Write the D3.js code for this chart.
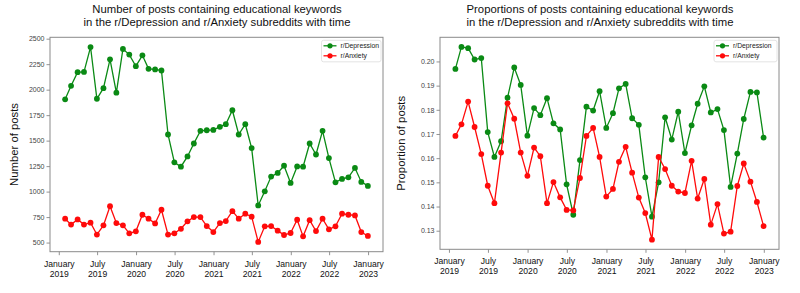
<!DOCTYPE html>
<html><head><meta charset="utf-8">
<script src="https://cdn.jsdelivr.net/npm/d3@7/dist/d3.min.js"></script>
<style>
html,body{margin:0;padding:0;background:#fff;}
svg{display:block;font-family:"Liberation Sans",Arial,sans-serif;}
</style></head>
<body><svg id="c" width="800" height="293"></svg>
<script>
// ---- data ----
const months = ["2019-01","2019-02","2019-03","2019-04","2019-05","2019-06","2019-07","2019-08","2019-09","2019-10","2019-11","2019-12",
"2020-01","2020-02","2020-03","2020-04","2020-05","2020-06","2020-07","2020-08","2020-09","2020-10","2020-11","2020-12",
"2021-01","2021-02","2021-03","2021-04","2021-05","2021-06","2021-07","2021-08","2021-09","2021-10","2021-11","2021-12",
"2022-01","2022-02","2022-03","2022-04","2022-05","2022-06","2022-07","2022-08","2022-09","2022-10","2022-11","2022-12"];
const depressionCounts = [1905,2038,2171,2174,2418,1911,2015,2298,1970,2399,2344,2230,2337,2204,2198,2188,1560,1287,1244,1345,1472,1596,1602,1605,
1635,1661,1798,1560,1661,1427,864,1003,1147,1183,1254,1085,1247,1244,1472,1364,1596,1329,1091,1124,1140,1232,1095,1056];
const anxietyCounts = [734,676,727,676,695,578,669,857,691,669,591,610,773,734,688,822,578,591,635,708,750,750,662,603,
691,711,808,734,783,754,506,659,662,617,574,594,724,561,720,613,734,630,659,783,773,766,603,565];
const depressionProp = [0.1969,0.2060,0.2055,0.2008,0.2014,0.1708,0.1605,0.1670,0.1850,0.1975,0.1903,0.1693,0.1807,0.1778,0.1848,0.1744,0.1719,0.1492,0.1366,0.1592,0.1813,0.1797,0.1877,0.1725,
0.1786,0.1889,0.1907,0.1765,0.1738,0.1521,0.1358,0.1500,0.1769,0.1677,0.1792,0.1621,0.1736,0.1825,0.1897,0.1789,0.1803,0.1716,0.1481,0.1619,0.1762,0.1874,0.1872,0.1685];
const anxietyProp = [0.1692,0.1740,0.1834,0.1729,0.1617,0.1486,0.1414,0.1623,0.1827,0.1763,0.1623,0.1527,0.1644,0.1608,0.1414,0.1501,0.1438,0.1386,0.1384,0.1518,0.1692,0.1725,0.1605,0.1441,
0.1473,0.1585,0.1647,0.1540,0.1437,0.1373,0.1263,0.1605,0.1555,0.1486,0.1462,0.1456,0.1589,0.1433,0.1514,0.1325,0.1410,0.1288,0.1296,0.1485,0.1578,0.1503,0.1419,0.1319];
const xTickDates = ["2019-01-01","2019-07-01","2020-01-01","2020-07-01","2021-01-01","2021-07-01","2022-01-01","2022-07-01","2023-01-01"];
const xTickLabels = [["January","2019"],["July","2019"],["January","2020"],["July","2020"],["January","2021"],["July","2021"],["January","2022"],["July","2022"],["January","2023"]];
const countTicks = [500,750,1000,1250,1500,1750,2000,2250,2500];
const propTicks = [0.13,0.14,0.15,0.16,0.17,0.18,0.19,0.20];
const seriesNames = ["r/Depression","r/Anxiety"];
const seriesColors = ["#0a8a14","#ff0a0a"];

// month-end dates
const dates = months.map(m => { const [y, mo] = m.split("-").map(Number); return new Date(y, mo, 0); });
const tickDates = xTickDates.map(s => { const [y,m,d] = s.split("-").map(Number); return new Date(y, m-1, d); });

const svg = d3.select("#c");

function panel(cfg) {
  const {x0,x1,y0,y1,series,yTicks,yFmt,title,ylabel,ylabelX,titleX,legendX} = cfg;
  const g = svg.append("g");
  // padded domains (5%)
  const t0 = +dates[0], t1 = +dates[dates.length-1], tp = (t1-t0)*0.05;
  const x = d3.scaleTime().domain([new Date(t0-tp), new Date(t1+tp)]).range([x0,x1]);
  const all = series.flat();
  const mn = d3.min(all), mx = d3.max(all), vp = (mx-mn)*0.05;
  const y = d3.scaleLinear().domain([mn-vp, mx+vp]).range([y1,y0]);

  // axes
  const xa = g.append("g").attr("transform",`translate(0,${y1})`)
    .call(d3.axisBottom(x).tickValues(tickDates).tickSize(3.5).tickFormat(""));
  xa.select(".domain").remove();
  xa.selectAll(".tick line").attr("stroke","#777").attr("stroke-width",0.8);
  xa.selectAll(".tick").each(function(d,i){
    const t = d3.select(this).append("text").attr("fill","#111").attr("font-size","8.6px").attr("text-anchor","middle");
    t.append("tspan").attr("x",0).attr("y",15).text(xTickLabels[i][0]);
    t.append("tspan").attr("x",0).attr("y",25).text(xTickLabels[i][1]);
  });
  const ya = g.append("g").attr("transform",`translate(${x0},0)`)
    .call(d3.axisLeft(y).tickValues(yTicks).tickSize(3.5).tickPadding(2).tickFormat(yFmt));
  ya.select(".domain").remove();
  ya.selectAll(".tick line").attr("stroke","#777").attr("stroke-width",0.8);
  ya.selectAll(".tick text").attr("fill","#444").attr("font-size","7px");

  // frame
  g.append("rect").attr("x",x0).attr("y",y0).attr("width",x1-x0).attr("height",y1-y0)
    .attr("fill","none").attr("stroke","#8a8a8a").attr("stroke-width",1);

  // lines
  const line = d3.line().x((d,i)=>x(dates[i])).y(d=>y(d));
  series.forEach((s,k)=>{
    g.append("path").datum(s).attr("d",line).attr("fill","none").attr("stroke",seriesColors[k]).attr("stroke-width",1.3);
    g.selectAll(null).data(s).enter().append("circle")
      .attr("cx",(d,i)=>x(dates[i])).attr("cy",d=>y(d)).attr("r",2.9).attr("fill",seriesColors[k]);
  });

  // title
  const tt = g.append("text").attr("text-anchor","middle").attr("font-size","11.3px").attr("fill","#111");
  tt.append("tspan").attr("x",titleX).attr("y",13).text(title[0]);
  tt.append("tspan").attr("x",titleX).attr("y",26).text(title[1]);

  // y label
  g.append("text").attr("transform",`translate(${ylabelX},${(y0+y1)/2}) rotate(-90)`)
    .attr("text-anchor","middle").attr("font-size","11.3px").attr("fill","#111").text(ylabel);

  // legend
  const lg = g.append("g").attr("transform",`translate(${legendX},${y0+3})`);
  lg.append("rect").attr("x",0).attr("y",0).attr("width",x1-legendX-2).attr("height",21.5).attr("rx",2)
    .attr("fill","#fff").attr("stroke","#ddd").attr("stroke-width",0.8);
  seriesNames.forEach((n,k)=>{
    const yy = 5.5 + k*10;
    lg.append("line").attr("x1",2).attr("x2",15).attr("y1",yy).attr("y2",yy).attr("stroke",seriesColors[k]).attr("stroke-width",1.3);
    lg.append("circle").attr("cx",8.5).attr("cy",yy).attr("r",2.6).attr("fill",seriesColors[k]);
    lg.append("text").attr("x",19).attr("y",yy+2.4).attr("font-size","6.8px").attr("fill","#222").text(n);
  });
}

panel({x0:50,x1:383,y0:37.3,y1:251.7,series:[depressionCounts,anxietyCounts],yTicks:countTicks,yFmt:d3.format("d"),
  title:["Number of posts containing educational keywords","in the r/Depression and r/Anxiety subreddits with time"],
  ylabel:"Number of posts",ylabelX:18,titleX:217,legendX:321.5});
panel({x0:440,x1:779,y0:37.3,y1:249.3,series:[depressionProp,anxietyProp],yTicks:propTicks,yFmt:d3.format(".2f"),
  title:["Proportions of posts containing educational keywords","in the r/Depression and r/Anxiety subreddits with time"],
  ylabel:"Proportion of posts",ylabelX:405,titleX:600,legendX:714});
</script>
</body></html>
